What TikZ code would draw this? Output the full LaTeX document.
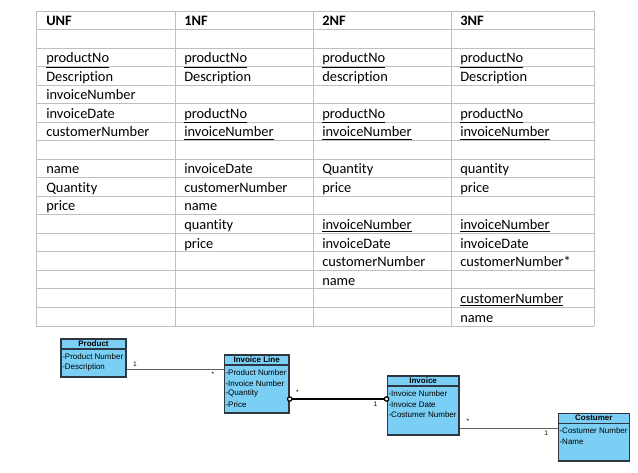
\documentclass[tikz,border=0pt]{standalone}
\usepackage{fontspec}
\newfontfamily\wordfont[Ligatures=NoCommon]{Carlito}
\newfontfamily\umlfont{Liberation Sans}
\usetikzlibrary{arrows.meta}
\definecolor{gridgray}{RGB}{191,191,191}
\definecolor{umlblue}{RGB}{123,207,244}
\definecolor{umledge}{RGB}{45,55,65}
\definecolor{linkgray}{RGB}{95,95,95}
\tikzset{
  cell/.style={anchor=base west,inner sep=0pt,font=\wordfont\fontsize{10.8}{13}\selectfont},
  grid/.style={draw=gridgray,line width=0.75pt},
  cls/.style={draw=umledge,fill=umlblue,line width=0.9pt,inner sep=0pt},
  clshead/.style={inner sep=0pt,font=\umlfont\bfseries\fontsize{6}{7}\selectfont},
  clsattr/.style={anchor=west,inner sep=0pt,font=\umlfont\fontsize{6}{7}\selectfont},
  mult/.style={inner sep=0pt,font=\umlfont\fontsize{5}{6}\selectfont},
  assoc/.style={draw=linkgray,line width=0.8pt},
  aggr/.style={draw=black,line width=1.5pt,shorten <=-2pt,shorten >=-2pt,
    {Circle[length=4.2pt,width=4.2pt,fill=white,line width=0.9pt]}-{Circle[length=4.2pt,width=4.2pt,fill=white,line width=0.9pt]}},
}
\begin{document}
\begin{tikzpicture}[x=0.75pt,y=-0.75pt]
\useasboundingbox (0,0) rectangle (638,472);
% normalisation table
\foreach \r in {0,...,17}
  \draw[grid] (36,{11+18.53*\r}) -- (594,{11+18.53*\r});
\foreach \c in {36,175,313,451,594}
  \draw[grid] (\c,11) -- (\c,326);
\foreach \r/\txt in {1/\textbf{UNF},3/\underline{productNo},4/Description,5/invoiceNumber,
    6/invoiceDate,7/customerNumber,9/name,10/Quantity,11/price}
  \node[cell] (unf\r) at (46,{11+18.53*(\r-0.5)+5.4}) {\txt};
\foreach \r/\txt in {1/\textbf{1NF},3/\underline{productNo},4/Description,6/\underline{productNo},
    7/\underline{invoiceNumber},9/invoiceDate,10/customerNumber,11/name,12/quantity,13/price}
  \node[cell] (onenf\r) at (184,{11+18.53*(\r-0.5)+5.4}) {\txt};
\foreach \r/\txt in {1/\textbf{2NF},3/\underline{productNo},4/description,6/\underline{productNo},
    7/\underline{invoiceNumber},9/Quantity,10/price,12/\underline{invoiceNumber},13/invoiceDate,
    14/customerNumber,15/name}
  \node[cell] (twonf\r) at (322,{11+18.53*(\r-0.5)+5.4}) {\txt};
\foreach \r/\txt in {1/\textbf{3NF},3/\underline{productNo},4/Description,6/\underline{productNo},
    7/\underline{invoiceNumber},9/quantity,10/price,12/\underline{invoiceNumber},13/invoiceDate,
    14/customerNumber*,16/\underline{customerNumber},17/name}
  \node[cell] (threenf\r) at (460,{11+18.53*(\r-0.5)+5.4}) {\txt};
% class diagram
\node[cls,minimum width=48.75pt,minimum height=28.5pt] (prod) at (93.5,358) {};
\draw[umledge,line width=0.9pt] ([yshift=-7.9pt]prod.north west) -- ([yshift=-7.9pt]prod.north east);
\node[clshead] (prodname) at ([yshift=-3.9pt]prod.north) {Product};
\foreach \a [count=\i] in {Product Number,Description}
  \node[clsattr] (prodattr\i) at (62,{346.2+10.5*\i}) {-\a};
\node[cls,minimum width=48.5pt,minimum height=43.5pt] (invl) at (256.65,384) {};
\draw[umledge,line width=0.9pt] ([yshift=-7.9pt]invl.north west) -- ([yshift=-7.9pt]invl.north east);
\node[clshead] (invlname) at ([yshift=-3.9pt]invl.north) {Invoice Line};
\foreach \a [count=\i] in {Product Number,Invoice Number,Quantity,Price}
  \node[clsattr] (invlattr\i) at (225.3,{362.2+10.5*\i}) {-\a};
\node[cls,minimum width=53.8pt,minimum height=44.25pt] (inv) at (423.15,405.5) {};
\draw[umledge,line width=0.9pt] ([yshift=-7.9pt]inv.north west) -- ([yshift=-7.9pt]inv.north east);
\node[clshead] (invname) at ([yshift=-3.9pt]inv.north) {Invoice};
\foreach \a [count=\i] in {Invoice Number,Invoice Date,Costumer Number}
  \node[clsattr] (invattr\i) at (388.3,{383.2+10.5*\i}) {-\a};
\node[cls,minimum width=53.25pt,minimum height=35.8pt] (cost) at (593.8,437.15) {};
\draw[umledge,line width=0.9pt] ([yshift=-7.9pt]cost.north west) -- ([yshift=-7.9pt]cost.north east);
\node[clshead] (costname) at ([yshift=-3.9pt]cost.north) {Costumer};
\foreach \a [count=\i] in {Costumer Number,Name}
  \node[clsattr] (costattr\i) at (559.3,{420.5+10.5*\i}) {-\a};
% associations
\draw[assoc] ([yshift=-8.5pt]prod.east) -- ([yshift=-8.5pt]prod.east -| invl.west)
  node[mult,pos=0.085,above=1.8pt] (prodone) {1}
  node[mult,pos=0.89,below=1.2pt] (invlmany) {*};
\draw[aggr] ([yshift=-11.25pt]invl.east) -- ([yshift=-11.25pt]invl.east -| inv.west)
  node[mult,pos=0.08,above=3pt] (invlstar) {*}
  node[mult,pos=0.885,below=1.2pt] (invone) {1};
\draw[assoc] ([yshift=-17.1pt]inv.east) -- ([yshift=-17.1pt]inv.east -| cost.west)
  node[mult,pos=0.084,above=3pt] (invmany) {*}
  node[mult,pos=0.883,below=1.2pt] (costone) {1};
\end{tikzpicture}
\end{document}
